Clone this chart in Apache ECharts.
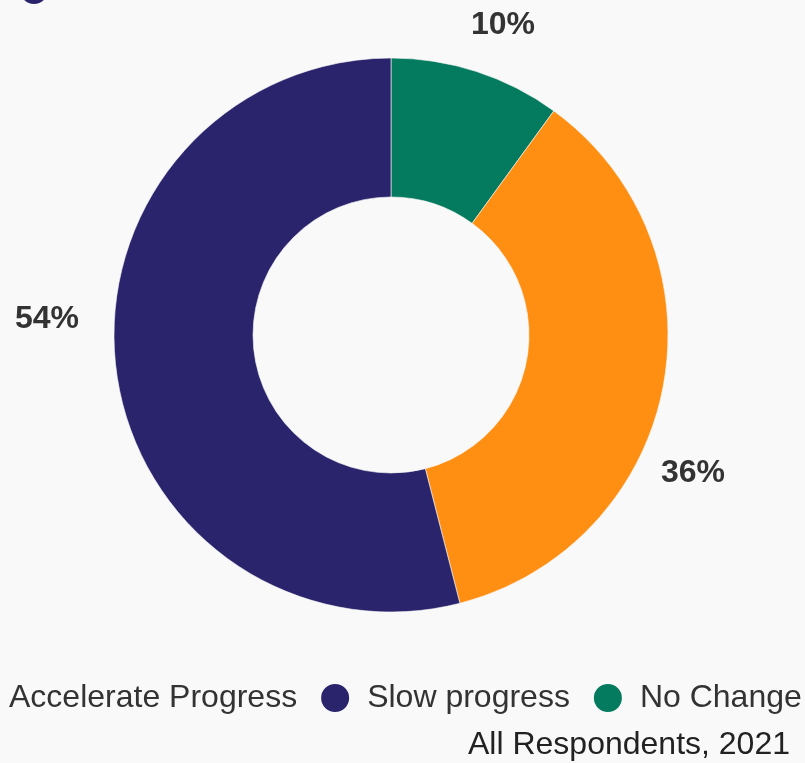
<!DOCTYPE html>
<html>
<head>
<meta charset="utf-8">
<script src="https://cdn.jsdelivr.net/npm/echarts@6/dist/echarts.min.js"></script>
<style>
html,body{margin:0;padding:0;background:#f9f9f9;}
#chart{width:805px;height:763px;}
</style>
</head>
<body>
<div id="chart"></div>
<script>
// Data
const categories = ['No Change', 'Accelerate Progress', 'Slow progress'];
const values = [10, 36, 54];
const legendOrder = ['Accelerate Progress', 'Slow progress', 'No Change'];
const colors = ['#047a5e', '#ff8f12', '#2a246c'];
const subtitle = 'All Respondents, 2021';

// label anchor offsets (layout only)
const labelPos = [[503, 25], [693, 473], [47, 319]];

const FONT = '"Liberation Sans", Arial, sans-serif';
const chart = echarts.init(document.getElementById('chart'));
chart.setOption({
  backgroundColor: '#f9f9f9',
  animation: false,
  title: {
    text: subtitle,
    right: 15,
    top: 729,
    padding: 0,
    textStyle: {fontFamily: FONT, fontSize: 32, fontWeight: 'normal', color: '#222'}
  },
  legend: {
    data: legendOrder,
    left: -39,
    top: 682,
    width: 1000,
    padding: 0,
    icon: 'circle',
    itemWidth: 30,
    itemHeight: 30,
    itemGap: 22,
    textStyle: {fontFamily: FONT, fontSize: 32, color: '#333', padding: [0, 0, 0, 12]}
  },
  graphic: [{
    type: 'circle',
    shape: {cx: 34, cy: -10, r: 14},
    style: {fill: '#2a246c'}
  }],
  series: [{
    type: 'pie',
    center: [391, 335],
    radius: [138, 277],
    startAngle: 90,
    clockwise: true,
    itemStyle: {borderColor: '#f9f9f9', borderWidth: 0.6},
    label: {
      show: true,
      formatter: '{c}%',
      fontFamily: FONT,
      fontSize: 32,
      fontWeight: 'bold',
      color: '#333',
      overflow: 'none',
      edgeDistance: 0,
      bleedMargin: 0
    },
    labelLine: {show: false},
    labelLayout: function (params) {
      const p = labelPos[params.dataIndex];
      return {x: p[0], y: p[1], align: 'center', verticalAlign: 'middle'};
    },
    emphasis: {disabled: true},
    data: categories.map((c, i) => ({name: c, value: values[i], itemStyle: {color: colors[i]}}))
  }]
});
</script>
</body>
</html>
